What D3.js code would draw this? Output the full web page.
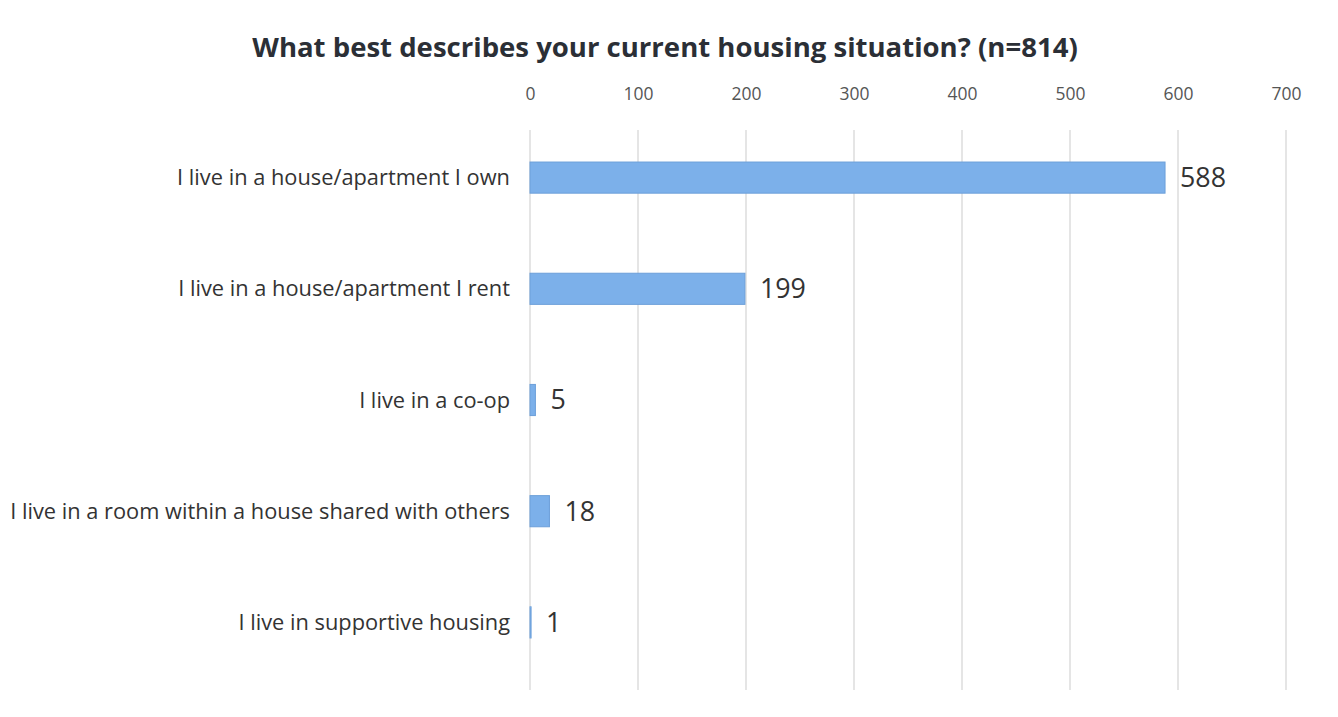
<!DOCTYPE html>
<html><head><meta charset="utf-8">
<script src="https://cdn.jsdelivr.net/npm/d3@7"></script>
<style>body{margin:0;background:#fff;} svg{display:block;}</style>
</head><body>
<svg id="c" width="1338" height="717"></svg>
<script>
const categories = [
  "I live in a house/apartment I own",
  "I live in a house/apartment I rent",
  "I live in a co-op",
  "I live in a room within a house shared with others",
  "I live in supportive housing"
];
const values = [588, 199, 5, 18, 1];
const tickValues = [0, 100, 200, 300, 400, 500, 600, 700];
const title = "What best describes your current housing situation? (n=814)";

const svg = d3.select("#c");
const font = "'Open Sans', Lato, sans-serif";

// pick a font size so that a sample string reaches a target width
function fitSize(sample, weight, target) {
  const t = svg.append("text").attr("font-family", font).attr("font-weight", weight)
    .attr("font-size", 20).text(sample);
  const w = t.node().getComputedTextLength();
  t.remove();
  return 20 * target / w;
}
const titleSize = fitSize(title, 700, 826);
const labelSize = fitSize(categories[3], 400, 500);
const valueSize = fitSize("588", 400, 46);
const tickSize = fitSize("100", 400, 30);

const x = d3.scaleLinear().domain([0, 700]).range([530, 1286]);
const y = d3.scaleBand().domain(categories).range([122, 678]).paddingInner(0.72).paddingOuter(0.36);

svg.append("text").attr("x", 665).attr("y", 47).attr("dy", "0.35em").attr("text-anchor", "middle")
  .attr("font-family", font).attr("font-weight", 700).attr("font-size", titleSize).attr("fill", "#2b2f36")
  .text(title);

// gridlines
svg.append("g").selectAll("line").data(tickValues).join("line")
  .attr("x1", d => x(d)).attr("x2", d => x(d)).attr("y1", 130).attr("y2", 690)
  .attr("stroke", "#dcdcdc").attr("stroke-width", 1.5);

// top axis
const ax = svg.append("g").attr("transform", "translate(0,100)")
  .call(d3.axisTop(x).tickValues(tickValues).tickSize(0).tickPadding(0));
ax.select(".domain").remove();
ax.selectAll("text").attr("font-family", font).attr("font-size", tickSize).attr("fill", "#555");

// bars
svg.append("g").selectAll("rect").data(values).join("rect")
  .attr("x", x(0)).attr("y", (d, i) => y(categories[i]))
  .attr("width", d => x(d) - x(0)).attr("height", y.bandwidth())
  .attr("fill", "#7cb0ea").attr("stroke", "#6c9fd9").attr("stroke-width", 1);

// category labels
svg.append("g").selectAll("text").data(categories).join("text")
  .attr("x", 510).attr("y", d => y(d) + y.bandwidth() / 2).attr("dy", "0.35em")
  .attr("text-anchor", "end").attr("font-family", font).attr("font-size", labelSize).attr("fill", "#333")
  .text(d => d);

// value labels
svg.append("g").selectAll("text").data(values).join("text")
  .attr("x", d => x(d) + 15).attr("y", (d, i) => y(categories[i]) + y.bandwidth() / 2).attr("dy", "0.35em")
  .attr("font-family", font).attr("font-size", valueSize).attr("fill", "#333")
  .text(d => d);
</script>
</body></html>
